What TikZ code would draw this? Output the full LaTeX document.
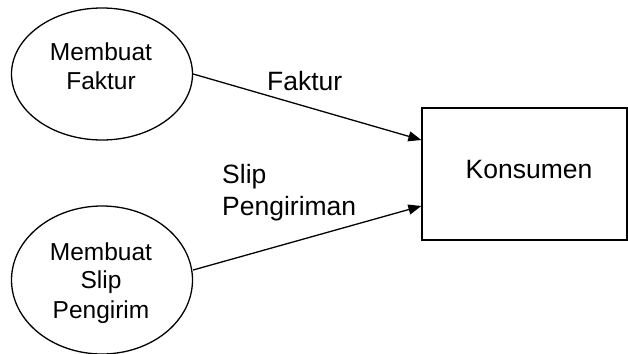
\documentclass[tikz,border=0pt]{standalone}
\usepackage{fontspec}
\setmainfont{Liberation Sans}
\usetikzlibrary{shapes.geometric,arrows.meta}
\begin{document}
\begin{tikzpicture}[x=1pt,y=-1pt,
  proc/.style={draw,ellipse,line width=1.3pt,minimum width=181pt,minimum height=132pt,inner sep=0pt},
  ent/.style={draw,rectangle,line width=1.3pt,minimum width=205pt,minimum height=132pt,inner sep=0pt},
  small/.style={anchor=base,inner sep=0pt,font=\fontsize{24.5}{29}\selectfont},
  big/.style={inner sep=0pt,font=\fontsize{26.5}{31}\selectfont},
  flow/.style={line width=1.3pt,-{Triangle[length=13pt,width=10pt]}}]
\useasboundingbox (0,0) rectangle (628,353);
\node[proc] (e1) at (102,74) {};
\node[proc,minimum height=148pt] (e2) at (102,280) {};
\node[ent] (k) at (524.5,174) {};
\node[small] (t1a) at (101,60) {Membuat};
\node[small] (t1b) at (101,89) {Faktur};
\node[small] (t2a) at (101,260) {Membuat};
\node[small] (t2b) at (101,288) {Slip};
\node[small] (t2c) at (101,318) {Pengirim};
\node[big,anchor=base] (kt) at (529,178) {Konsumen};
\node[big,anchor=base west] (l1) at (267,90) {Faktur};
\node[big,anchor=base west] (l2a) at (222,183) {Slip};
\node[big,anchor=base west] (l2b) at (222,215) {Pengiriman};
\draw[flow] (e1.east) -- ([yshift=34pt]k.west);
\draw[flow] ([yshift=10pt]e2.east) -- ([yshift=-32pt]k.west);
\end{tikzpicture}
\end{document}
